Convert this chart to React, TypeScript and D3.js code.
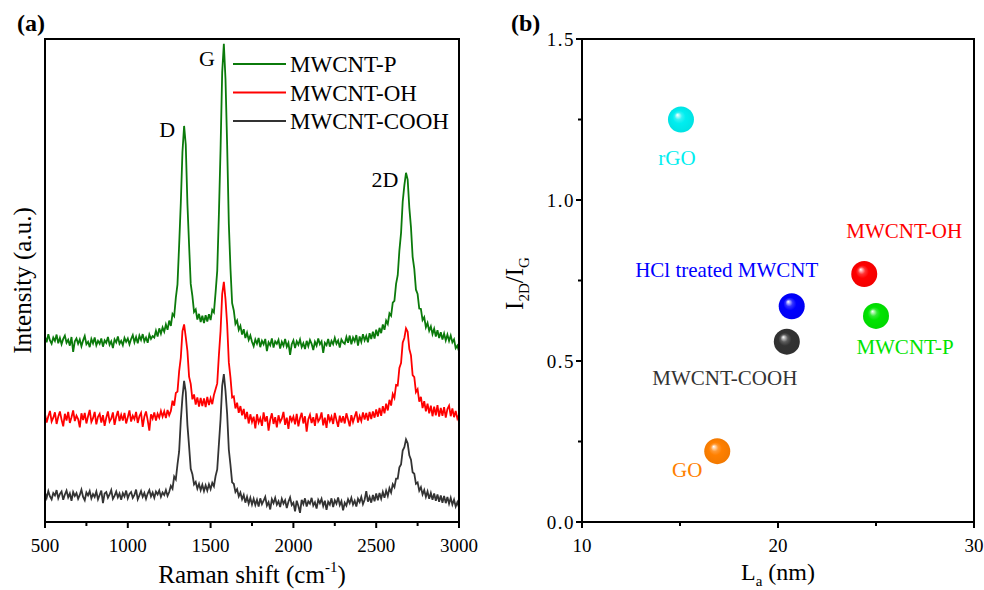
import React from 'react';
import * as d3 from 'd3';

// ---------- Panel (a): Raman spectra (500–3000 cm-1, every 10 cm-1) ----------
const ramanStart = 500;
const ramanStep = 10;

const greenP = [
  38.4, 37.2, 38.9, 37.6, 36.9, 38.2, 37.5, 38.8, 37.0, 38.1,
  36.8, 37.9, 38.6, 37.1, 37.7, 36.5, 38.3, 35.2, 37.4, 38.0,
  36.9, 37.8, 36.4, 37.6, 38.5, 36.8, 37.3, 36.2, 37.9, 37.0,
  38.2, 36.6, 37.5, 36.9, 38.0, 36.3, 37.6, 37.1, 38.3, 36.7,
  37.4, 36.0, 37.8, 37.2, 38.4, 36.9, 37.5, 36.6, 38.1, 37.3,
  38.0, 36.8, 37.9, 38.7, 37.2, 38.3, 37.0, 38.6, 37.7, 38.9,
  37.4, 38.2, 37.1, 38.8, 37.9, 38.5, 38.2, 39.6, 38.4, 40.1,
  39.0, 40.3, 39.4, 40.9, 39.8, 41.7, 40.6, 43.1, 42.6, 46.4,
  49.2, 57.3, 66.0, 76.6, 82.0, 78.1, 65.9, 57.4, 49.3, 46.8,
  43.5, 44.0, 41.9, 43.1, 41.4, 42.7, 41.2, 42.8, 41.5, 43.0,
  41.8, 43.9, 43.4, 47.5, 52.0, 63.6, 77.0, 93.1, 99.0, 91.6,
  77.9, 61.8, 52.5, 45.3, 43.8, 41.0, 41.7, 39.8, 40.6, 38.8,
  39.9, 38.1, 39.2, 37.7, 38.6, 37.3, 36.4, 37.8, 36.9, 38.1,
  36.2, 37.5, 36.8, 37.9, 35.4, 37.2, 36.6, 38.0, 36.1, 37.4,
  36.9, 37.7, 35.9, 37.3, 36.5, 37.9, 36.3, 37.1, 34.6, 36.8,
  37.6, 36.0, 37.4, 36.7, 37.8, 36.2, 37.0, 35.8, 37.5, 36.4,
  37.7, 36.9, 35.6, 37.3, 36.5, 38.0, 36.8, 37.4, 35.0, 37.1,
  36.6, 37.9, 36.3, 37.5, 36.8, 38.1, 36.9, 37.6, 36.1, 37.8,
  37.2, 36.9, 38.3, 37.1, 38.6, 36.8, 38.2, 37.4, 38.7, 36.5,
  38.4, 37.3, 38.9, 37.6, 38.5, 37.2, 39.1, 37.9, 39.4, 38.0,
  39.8, 38.5, 40.2, 39.1, 40.9, 39.8, 41.7, 41.0, 43.2, 42.7,
  45.4, 45.8, 49.3, 51.1, 56.2, 59.8, 66.3, 69.7, 72.3, 70.9,
  65.1, 61.0, 54.9, 52.4, 48.1, 47.2, 44.2, 44.1, 41.8, 42.4,
  40.3, 41.2, 39.6, 40.5, 38.9, 40.0, 38.4, 39.7, 38.1, 39.3,
  37.8, 39.0, 37.6, 38.8, 37.5, 38.6, 37.2, 37.8, 36.0, 36.5,
  35.3,
];

const redOH = [
  22.3, 20.6, 21.9, 23.0, 20.8, 21.6, 22.7, 20.3, 21.8, 22.9,
  21.2, 19.8, 22.4, 21.0, 22.8, 20.5, 21.7, 23.1, 20.9, 22.0,
  21.3, 19.6, 22.5, 21.1, 22.6, 20.4, 21.9, 23.2, 20.7, 21.5,
  22.8, 20.2, 21.8, 22.4, 20.6, 22.1, 19.9, 21.6, 22.9, 20.8,
  21.4, 22.7, 20.1, 21.8, 23.0, 20.9, 22.2, 21.0, 22.6, 20.4,
  21.7, 23.1, 20.8, 22.0, 21.3, 22.8, 20.5, 21.9, 22.6, 19.7,
  21.8, 22.9, 21.1, 18.9, 22.3, 21.4, 22.7, 21.0, 22.4, 21.6,
  23.0, 21.8, 22.9, 21.5, 23.2, 22.1, 23.0, 25.1, 24.1, 26.7,
  27.0, 31.2, 34.0, 39.5, 40.9, 38.3, 35.4, 30.1, 28.6, 25.4,
  26.4, 24.3, 25.8, 23.9, 25.7, 24.0, 25.6, 23.8, 25.9, 24.2,
  25.6, 24.4, 26.3, 27.5, 28.7, 34.5, 39.5, 47.2, 49.7, 46.1,
  40.9, 33.1, 29.9, 25.8, 26.0, 23.5, 24.7, 22.6, 24.0, 22.1,
  23.4, 21.3, 22.8, 20.4, 22.3, 20.7, 21.8, 19.4, 22.3, 20.6,
  21.5, 19.9, 22.7, 20.8, 21.9, 18.9, 21.2, 22.5, 20.3, 21.7,
  19.6, 22.1, 20.7, 21.4, 22.8, 20.1, 21.6, 19.3, 22.0, 20.9,
  21.8, 20.2, 22.4, 19.8, 21.5, 22.6, 20.4, 21.9, 18.7, 21.3,
  22.2, 20.5, 21.7, 19.9, 22.5, 20.8, 21.4, 22.7, 20.0, 21.6,
  19.5, 22.3, 20.9, 21.8, 20.3, 22.6, 21.1, 19.7, 22.0, 20.6,
  21.9, 20.4, 22.5, 21.2, 19.8, 22.1, 20.7, 21.8, 22.9, 20.6,
  21.9, 20.9, 22.7, 21.2, 22.6, 21.0, 22.8, 21.3, 22.9, 21.6,
  23.3, 21.8, 23.6, 22.0, 24.0, 22.5, 24.5, 23.1, 25.3, 24.1,
  26.5, 25.7, 28.4, 28.3, 31.9, 32.9, 37.1, 38.1, 40.1, 39.4,
  35.8, 34.5, 30.4, 30.0, 26.9, 27.5, 24.9, 25.9, 23.6, 25.0,
  22.9, 24.5, 22.5, 24.1, 21.9, 23.9, 22.1, 24.2, 21.8, 23.6,
  22.0, 23.8, 21.6, 23.4, 24.1, 21.9, 23.5, 21.7, 23.0, 21.4,
  22.2,
];

const blackCOOH = [
  6.1, 5.0, 6.4, 5.3, 4.7, 6.0, 5.5, 6.6, 4.9, 5.8,
  6.3, 4.6, 5.7, 6.5, 5.1, 5.9, 4.4, 6.2, 5.4, 6.0,
  4.8, 5.6, 6.7, 5.2, 4.5, 6.1, 5.5, 6.4, 4.9, 5.8,
  5.2, 6.3, 4.7, 5.6, 6.5, 3.9, 5.9, 6.2, 5.0, 5.7,
  6.6, 4.8, 5.4, 6.3, 5.1, 5.9, 4.6, 6.0, 5.3, 6.5,
  4.9, 5.8, 6.2, 5.0, 5.6, 6.7, 4.7, 5.5, 6.4, 5.2,
  6.0, 4.8, 5.9, 6.6, 5.3, 6.1, 5.0, 6.3, 5.7, 6.5,
  5.2, 6.1, 5.6, 6.6, 5.4, 6.2, 7.5, 6.9, 9.4, 8.8,
  11.9, 14.6, 21.0, 25.8, 29.2, 26.9, 20.1, 15.7, 11.0, 9.9,
  7.8, 8.3, 6.9, 7.9, 6.6, 7.7, 6.4, 7.6, 6.5, 7.8,
  6.8, 8.1, 7.4, 9.5, 10.9, 16.1, 21.2, 28.2, 30.6, 27.1,
  22.3, 15.0, 11.8, 8.2, 7.9, 6.2, 6.8, 5.3, 6.1, 4.7,
  5.6, 4.0, 5.2, 3.8, 5.0, 3.6, 4.8, 3.5, 4.6, 3.2,
  4.9, 3.7, 4.4, 5.2, 3.4, 4.1, 2.6, 4.7, 3.9, 5.0,
  3.6, 4.3, 3.1, 4.8, 3.8, 4.5, 2.9, 4.2, 5.1, 3.5,
  4.0, 2.2, 4.4, 3.3, 1.9, 4.6, 3.7, 4.9, 3.2, 4.3,
  3.8, 5.0, 3.4, 4.1, 2.8, 4.6, 3.9, 4.8, 3.3, 4.4,
  2.5, 4.2, 3.6, 4.9, 3.1, 4.5, 3.8, 5.1, 3.5, 4.3,
  2.4, 4.0, 3.4, 4.7, 3.9, 5.0, 3.6, 4.4, 3.2, 4.8,
  4.1, 5.2, 3.7, 4.6, 6.4, 4.2, 5.2, 4.0, 5.6, 4.3,
  5.9, 4.5, 6.0, 4.8, 6.2, 5.0, 6.5, 5.4, 7.0, 6.1,
  7.8, 7.2, 9.0, 9.0, 11.3, 11.9, 14.8, 15.5, 17.1, 16.3,
  13.8, 12.9, 10.3, 10.0, 7.9, 8.2, 6.5, 7.2, 5.7, 6.6,
  5.2, 6.3, 4.8, 6.0, 4.6, 5.9, 4.4, 5.7, 4.2, 5.5,
  4.0, 5.4, 3.9, 5.2, 3.8, 5.0, 3.6, 4.6, 3.2, 4.1,
  3.0,
];

const spectraNames = ['MWCNT-P', 'MWCNT-OH', 'MWCNT-COOH'];
const spectraColors = ['#0b7a0b', '#ff0000', '#333333'];
const peakNames = ['D', 'G', '2D'];
const peakShifts = [1340, 1580, 2680];
const ramanTicks = [500, 1000, 1500, 2000, 2500, 3000];
const ramanMinorTicks = [750, 1250, 1750, 2250, 2750];

// ---------- Panel (b): I2D/IG vs La ----------
const sampleNames = ['rGO', 'HCl treated MWCNT', 'MWCNT-OH', 'MWCNT-P', 'MWCNT-COOH', 'GO'];
const laValues = [15.05, 20.7, 24.4, 25.0, 20.45, 16.9];
const ratioValues = [1.25, 0.67, 0.77, 0.64, 0.56, 0.22];
const sampleColors = ['#00eef0', '#0000ff', '#ff0000', '#00e400', '#333333', '#ff8000'];
const laTicks = [10, 20, 30];
const laMinorTicks = [15, 25];
const ratioTicks = [0.0, 0.5, 1.0, 1.5];
const ratioMinorTicks = [0.25, 0.75, 1.25];

// ---------- layout / style ----------
const W = 984;
const H = 590;
const FONT = '"Liberation Serif", "Times New Roman", Times, serif';
const A = { left: 45, right: 459, top: 39, bottom: 522 };
const B = { left: 582, right: 974, top: 39, bottom: 522 };
const peakLabelOffsets = [
  { dx: -17, dy: 11 },
  { dx: -17, dy: 22 },
  { dx: -21, dy: 14 },
];
const sampleLabelOffsets = [
  { dx: -4, dy: 45 },
  { dx: -65, dy: -29 },
  { dx: 40, dy: -36 },
  { dx: 29, dy: 38 },
  { dx: -62, dy: 43 },
  { dx: -30, dy: 26 },
];

export default function App() {
  const xA = d3.scaleLinear().domain([500, 3000]).range([A.left, A.right]);
  const yA = d3.scaleLinear().domain([0, 100]).range([A.bottom, A.top]);
  const xB = d3.scaleLinear().domain([10, 30]).range([B.left, B.right]);
  const yB = d3.scaleLinear().domain([0, 1.5]).range([B.bottom, B.top]);

  const series = [greenP, redOH, blackCOOH];
  const line = d3
    .line<number>()
    .x((_, i) => xA(ramanStart + ramanStep * i))
    .y((d) => yA(d));

  const sphereR = 13;

  return (
    <svg
      width={W}
      height={H}
      viewBox={`0 0 ${W} ${H}`}
      style={{ position: 'absolute', left: 0, top: 0, background: '#fff' }}
      fontFamily={FONT}
    >
      <defs>
        <clipPath id="clipA">
          <rect x={A.left} y={A.top} width={A.right - A.left} height={A.bottom - A.top} />
        </clipPath>
        {sampleColors.map((c, i) => (
          <radialGradient key={i} id={`sph${i}`} cx="50%" cy="50%" r="50%" fx="36%" fy="32%">
            <stop offset="0%" stopColor="#ffffff" />
            <stop offset="28%" stopColor={d3.interpolateRgb('#ffffff', c)(0.8)} />
            <stop offset="50%" stopColor={c} />
            <stop offset="100%" stopColor={d3.color(c)!.darker(0.15).formatHex()} />
          </radialGradient>
        ))}
      </defs>

      {/* ---------------- Panel (a) ---------------- */}
      <text x={17} y={31} fontSize={24} fontWeight="bold">(a)</text>
      <g clipPath="url(#clipA)">
        {series
          .map((s, k) => (
            <path key={k} d={line(s) || ''} fill="none" stroke={spectraColors[k]} strokeWidth={1.8} strokeLinejoin="miter" />
          ))
          .reverse()}
      </g>
      <rect x={A.left} y={A.top} width={A.right - A.left} height={A.bottom - A.top} fill="none" stroke="#000" strokeWidth={2} />
      {ramanTicks.map((t) => (
        <g key={t}>
          <line x1={xA(t)} x2={xA(t)} y1={A.bottom} y2={A.bottom + 6} stroke="#000" strokeWidth={2} />
          <text x={xA(t)} y={552} fontSize={19} textAnchor="middle">{t}</text>
        </g>
      ))}
      {ramanMinorTicks.map((t) => (
        <line key={t} x1={xA(t)} x2={xA(t)} y1={A.bottom} y2={A.bottom + 4} stroke="#000" strokeWidth={2} />
      ))}
      <text x={(A.left + A.right) / 2} y={583} fontSize={25} textAnchor="middle">
        Raman shift (cm<tspan fontSize={15} dy={-11}>-1</tspan><tspan dy={11}>)</tspan>
      </text>
      <text transform={`translate(31, ${(A.top + A.bottom) / 2}) rotate(-90)`} fontSize={25} textAnchor="middle">
        Intensity (a.u.)
      </text>
      {peakNames.map((p, i) => {
        const idx = Math.round((peakShifts[i] - ramanStart) / ramanStep);
        return (
          <text
            key={p}
            x={xA(peakShifts[i]) + peakLabelOffsets[i].dx}
            y={yA(greenP[idx]) + peakLabelOffsets[i].dy}
            fontSize={22}
            textAnchor="middle"
          >
            {p}
          </text>
        );
      })}
      {spectraNames.map((n, i) => {
        const y = 64 + i * 28.5;
        return (
          <g key={n}>
            <line x1={233} x2={286} y1={y} y2={y} stroke={spectraColors[i]} strokeWidth={2} />
            <text x={290} y={y + 8} fontSize={23}>{n}</text>
          </g>
        );
      })}

      {/* ---------------- Panel (b) ---------------- */}
      <text x={511} y={31} fontSize={24} fontWeight="bold">(b)</text>
      <rect x={B.left} y={B.top} width={B.right - B.left} height={B.bottom - B.top} fill="none" stroke="#000" strokeWidth={2} />
      {laTicks.map((t) => (
        <g key={t}>
          <line x1={xB(t)} x2={xB(t)} y1={B.bottom} y2={B.bottom + 6} stroke="#000" strokeWidth={2} />
          <text x={xB(t)} y={552} fontSize={19} textAnchor="middle">{t}</text>
        </g>
      ))}
      {laMinorTicks.map((t) => (
        <line key={t} x1={xB(t)} x2={xB(t)} y1={B.bottom} y2={B.bottom + 4} stroke="#000" strokeWidth={2} />
      ))}
      {ratioTicks.map((t) => (
        <g key={t}>
          <line x1={B.left - 6} x2={B.left} y1={yB(t)} y2={yB(t)} stroke="#000" strokeWidth={2} />
          <text x={575} y={yB(t) + 6.5} fontSize={19} textAnchor="end" letterSpacing={1.5}>{t.toFixed(1)}</text>
        </g>
      ))}
      {ratioMinorTicks.map((t) => (
        <line key={t} x1={B.left - 4} x2={B.left} y1={yB(t)} y2={yB(t)} stroke="#000" strokeWidth={2} />
      ))}
      <text x={(B.left + B.right) / 2} y={580} fontSize={24} textAnchor="middle">
        L<tspan fontSize={15} dy={6}>a</tspan><tspan dy={-6}> (nm)</tspan>
      </text>
      <text transform={`translate(523, ${(B.top + B.bottom) / 2 + 3}) rotate(-90)`} fontSize={25} textAnchor="middle">
        I<tspan fontSize={15} dy={6}>2D</tspan><tspan dy={-6}>/I</tspan><tspan fontSize={15} dy={6}>G</tspan>
      </text>
      {sampleNames.map((n, i) => {
        const cx = xB(laValues[i]);
        const cy = yB(ratioValues[i]);
        return (
          <g key={n}>
            <circle cx={cx} cy={cy} r={sphereR} fill={`url(#sph${i})`} />
            <text
              x={cx + sampleLabelOffsets[i].dx}
              y={cy + sampleLabelOffsets[i].dy}
              fontSize={21}
              textAnchor="middle"
              fill={sampleColors[i]}
            >
              {n}
            </text>
          </g>
        );
      })}
    </svg>
  );
}
